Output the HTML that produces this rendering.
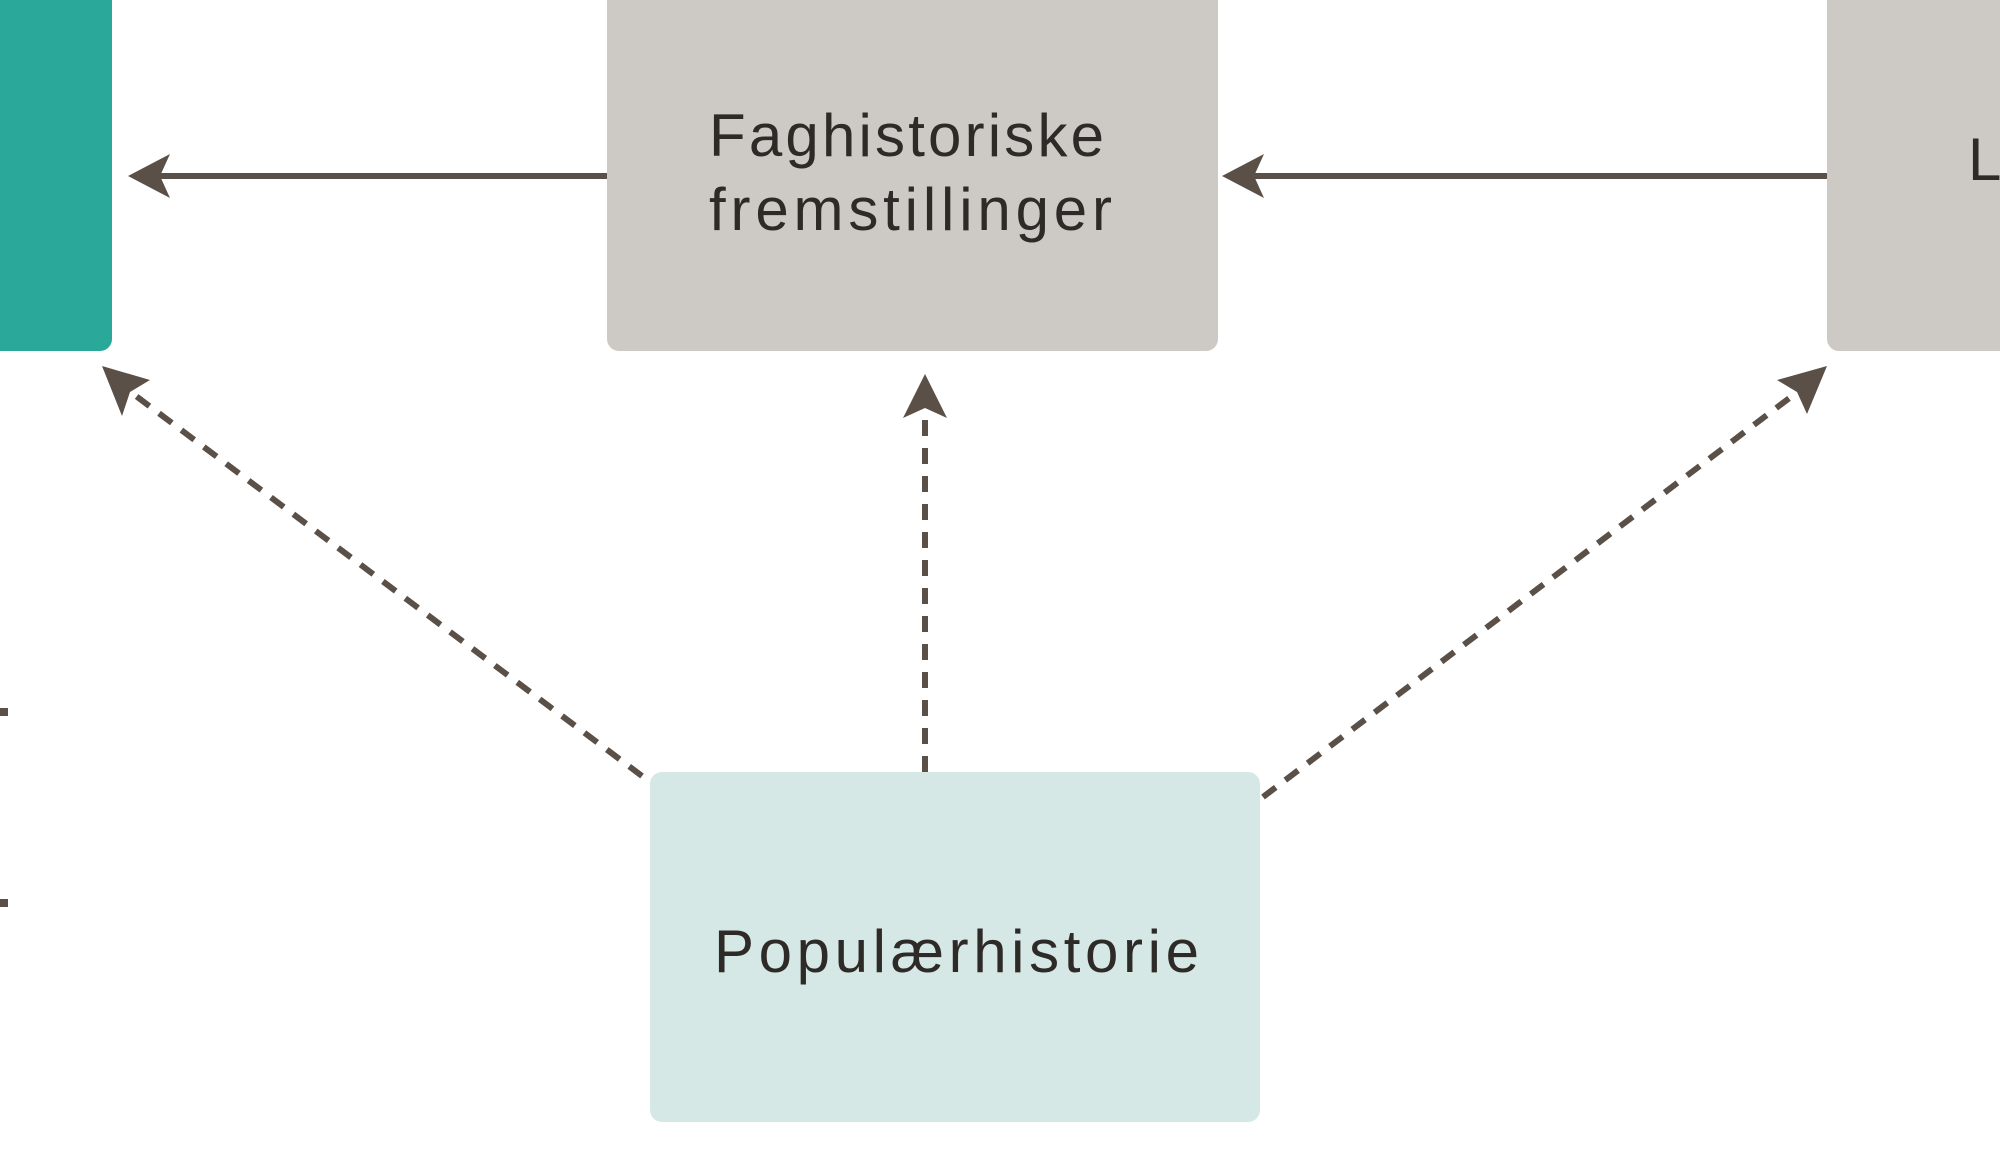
<!DOCTYPE html>
<html><head><style>
html,body{margin:0;padding:0;background:#fff;width:2000px;height:1165px;overflow:hidden}
svg{display:block}
text{font-family:"Liberation Sans",sans-serif;fill:#2e2a27}
</style></head><body>
<svg width="2000" height="1165" viewBox="0 0 2000 1165">
<rect x="-20" y="-20" width="132" height="371" rx="12" fill="#2aa89a"/>
<rect x="607" y="-20" width="611" height="371" rx="12" fill="#cdc9c5"/>
<rect x="1827" y="-20" width="200" height="371" rx="12" fill="#cdc9c5"/>
<rect x="650" y="772" width="610" height="350" rx="12" fill="#d5e8e5"/>
<text x="709" y="156" font-size="60" textLength="395" lengthAdjust="spacing">Faghistoriske</text>
<text x="709" y="230" font-size="60" textLength="403" lengthAdjust="spacing">fremstillinger</text>
<text x="1968" y="180" font-size="60">L</text>
<text x="714" y="972" font-size="60" textLength="485" lengthAdjust="spacing">Populærhistorie</text>
<g stroke="#5a5047" stroke-width="6" fill="none">
<line x1="607" y1="176" x2="150" y2="176"/>
<line x1="1827" y1="176" x2="1245" y2="176"/>
<g stroke-dasharray="16 12">
<line x1="642" y1="776" x2="128" y2="390"/>
<line x1="925" y1="772" x2="925" y2="410"/>
<line x1="1263" y1="797" x2="1800" y2="390"/>
</g>
</g>
<g fill="#5a5047">
<polygon points="128,176 170,154 160,176 170,198"/>
<polygon points="1222,176 1264,154 1254,176 1264,198"/>
<polygon points="925,374 947,418 925,408 903,418"/>
<polygon points="102,366 150,380 130,392 122,416"/>
<polygon points="1827,366 1807,414 1797,392 1777,380"/>
<rect x="0" y="708" width="8" height="8"/>
<rect x="0" y="899" width="8" height="8"/>
</g>
</svg>
</body></html>
